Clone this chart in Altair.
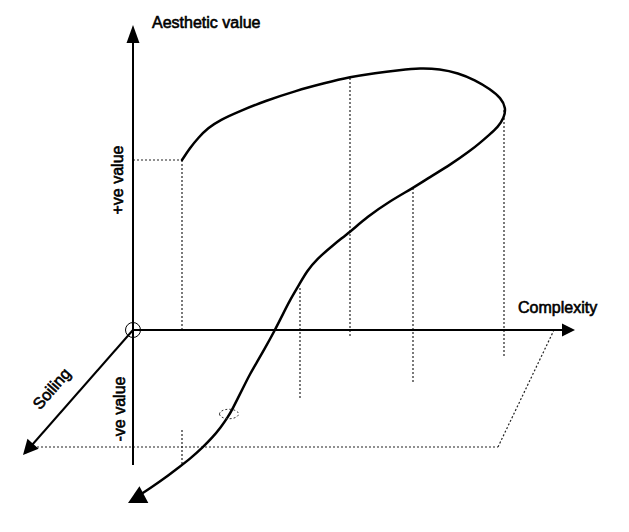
import altair as alt
import pandas as pd

# Diagram coordinates: origin where the axes cross, x to the right, y upwards.
X_DOMAIN = [-125, 488]
Y_DOMAIN = [-194, 322]

# Solid axes (start -> end)
axis_x1 = [0, 0, 0]
axis_y1 = [-135, 0, 0]
axis_x2 = [0, 440, -108]
axis_y2 = [302, 0, -123]

# Dotted guide lines (start -> end)
dot_x1 = [0, 49, 49, 217, 167, 280, 371, -100, 365]
dot_y1 = [170, 170, -100, 252, 42, 142, 220, -117, -117]
dot_x2 = [49, 49, 49, 217, 167, 280, 371, 365, 421]
dot_y2 = [170, 0, -135, -7, -70, -52, -26, -117, 0]

# Main curve (ordered, picture coordinates)
curve_x = [182, 190, 198, 208, 220, 240, 265, 295, 325, 350, 375, 400, 420, 440,
           458, 475, 490, 501, 506, 504, 498, 489, 481, 470, 450, 430, 413, 390,
           367, 350, 333, 317, 307, 299, 290, 282, 275, 264, 257, 250, 244, 238,
           233, 228, 221, 212, 203, 191, 178, 165, 152, 140, 133]
curve_y = [160, 148, 138, 128, 120, 111, 101, 91, 83, 77, 73, 70, 68, 69,
           73, 80, 89, 98, 108, 118, 127, 135, 142, 151, 165, 177, 188, 201,
           217, 232, 245, 259, 271, 285, 300, 316, 330, 350, 362, 374, 386, 398,
           408, 417, 427, 438, 447, 458, 468, 478, 487, 495, 499]

# Arrowheads: tip position, direction (deg clockwise from up), length, half-width ratio
arrow_x = [0, 442, -110, -5]
arrow_y = [305, 0, -125, -173]
arrow_angle = [0, 90, 222, 242]
arrow_len = [18, 13, 15, 18]
arrow_w = [0.72, 1.0, 1.0, 1.05]

# Texts
label_text = ["Aesthetic value", "Complexity", "+ve value", "-ve value", "Soiling"]
label_x = [19, 385, -15, -13, -81]
label_y = [302, 17, 150, -79, -59]
label_angle = [0, 0, 270, 270, 311]
label_align = ["left", "left", "center", "center", "center"]
label_base = ["alphabetic", "alphabetic", "middle", "middle", "middle"]

W, H = 613, 516
xs = alt.Scale(domain=X_DOMAIN, nice=False, zero=False)
ys = alt.Scale(domain=Y_DOMAIN, nice=False, zero=False)
noax = None

axes_df = pd.DataFrame({"x": axis_x1, "y": axis_y1, "x2": axis_x2, "y2": axis_y2})
dots_df = pd.DataFrame({"x": dot_x1, "y": dot_y1, "x2": dot_x2, "y2": dot_y2})
curve_df = pd.DataFrame({
    "x": [v - 133 for v in curve_x],
    "y": [330 - v for v in curve_y],
    "i": list(range(len(curve_x))),
})
arrow_df = pd.DataFrame({
    "x": arrow_x, "y": arrow_y, "angle": arrow_angle,
    "size": [l * l for l in arrow_len],
    "shape": [f"M0,0 L{w},2 L{-w},2 Z" for w in arrow_w],
})
text_df = pd.DataFrame({"t": label_text, "x": label_x, "y": label_y})

X = lambda f="x": alt.X(f"{f}:Q", scale=xs, axis=noax)
Y = lambda f="y": alt.Y(f"{f}:Q", scale=ys, axis=noax)

axes = alt.Chart(axes_df).mark_rule(strokeWidth=2, color="black").encode(
    x=X(), y=Y(), x2="x2:Q", y2="y2:Q")

dots = alt.Chart(dots_df).mark_rule(strokeWidth=1.2, color="#222", strokeDash=[2, 2]).encode(
    x=X(), y=Y(), x2="x2:Q", y2="y2:Q")

curve = alt.Chart(curve_df).mark_line(interpolate="basis", strokeWidth=2.5,
                                      color="black", strokeCap="round",
                                      strokeJoin="round").encode(
    x=X(), y=Y(), order="i:Q")

arrows = alt.Chart(arrow_df).mark_point(filled=True, color="black", opacity=1).encode(
    x=X(), y=Y(),
    shape=alt.Shape("shape:N", scale=None),
    size=alt.Size("size:Q", scale=None),
    angle=alt.Angle("angle:Q", scale=None))

origin = alt.Chart(pd.DataFrame({"x": [0], "y": [0]})).mark_point(
    shape="circle", size=225, filled=False, color="black", strokeWidth=1, opacity=1).encode(
    x=X(), y=Y())

ellipse = alt.Chart(pd.DataFrame({"x": [229 - 133], "y": [330 - 414]})).mark_point(
    shape="M-1,0 A1,0.5 0 1,0 1,0 A1,0.5 0 1,0 -1,0 Z", size=361, filled=False,
    color="#333", strokeWidth=1, strokeDash=[2, 2], opacity=1).encode(x=X(), y=Y())

texts = []
for i in range(len(label_text)):
    sub = text_df.iloc[[i]]
    texts.append(alt.Chart(sub).mark_text(
        font="Liberation Sans", fontSize=16, color="black",
        stroke="black", strokeWidth=0.6,
        angle=label_angle[i], align=label_align[i], baseline=label_base[i]).encode(
        x=X(), y=Y(), text="t:N"))

chart = alt.layer(dots, axes, curve, arrows, origin, ellipse, *texts).properties(
    width=W, height=H, padding=0, autosize=alt.AutoSizeParams(type="none"),
    background="white"
).configure_view(stroke=None, strokeWidth=0)

chart.save("out.html", embed_options={"renderer": "svg", "actions": False})
